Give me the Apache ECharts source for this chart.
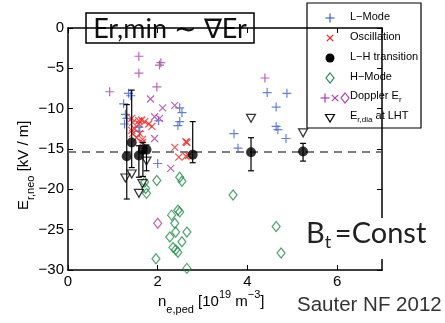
<!DOCTYPE html>
<html>
<head>
<meta charset="utf-8">
<script src="https://cdn.jsdelivr.net/npm/echarts@6/dist/echarts.min.js"></script>
<style>
  html, body { margin: 0; padding: 0; background: #fff; }
  #chart { width: 445px; height: 323px; }
</style>
</head>
<body>
<div id="chart"></div>
<script>
// Pedestal density n_e,ped [1e19 m^-3] vs neoclassical E_r [kV/m]

const xTicks = [0, 2, 4, 6];
const yTicks = [0, -5, -10, -15, -20, -25, -30];

// L-mode (CXRS)
const lMode = [
  [1.35, -8.1], [1.40, -8.4], [1.24, -9.4], [1.28, -10.7], [1.31, -11.2],
  [1.26, -11.9], [1.58, -12.3], [1.60, -12.8], [2.02, -11.5], [2.49, -9.9],
  [2.54, -10.5], [2.49, -11.6], [2.45, -12.1], [2.00, -16.8], [4.44, -8.0],
  [4.88, -8.1], [4.64, -9.8], [4.64, -12.2], [4.68, -12.6], [4.86, -13.7],
  [3.70, -13.1], [3.79, -14.9]
];

// Oscillation phase
const oscillation = [
  [1.42, -11.2], [1.58, -11.5], [1.64, -11.4], [1.71, -11.6], [1.80, -11.9],
  [1.87, -12.2], [1.44, -11.7], [1.58, -11.9], [1.42, -12.7], [1.49, -12.5],
  [1.44, -13.1], [1.53, -13.6], [1.60, -13.1], [1.66, -13.8], [1.66, -14.2],
  [2.38, -14.8], [2.63, -14.1], [2.65, -14.2], [2.47, -16.0], [2.63, -15.9],
  [2.69, -15.8]
];

// L-H transition points with error range
const lhTransition = [
  [1.31, -15.9], [1.42, -14.2], [1.58, -15.8], [1.67, -15.1],
  [1.75, -15.1], [2.78, -15.7], [4.08, -15.4], [5.24, -15.3]
];
const lhErrLow  = [-21.2, -17.3, -18.5, -18.4, -17.7, -16.7, -17.7, -16.5];
const lhErrHigh = [-9.5, -7.7, -14.6, -14.2, -14.5, -11.6, -13.6, -14.3];

// H-mode
const hMode = [
  [1.71, -19.1], [1.73, -19.9], [1.75, -20.5], [1.98, -18.9], [2.49, -18.5],
  [2.54, -19.0], [2.31, -23.2], [2.45, -22.6], [2.49, -22.8], [2.38, -24.2],
  [2.65, -25.3], [2.40, -25.3], [2.27, -25.9], [2.54, -26.5], [2.34, -27.2],
  [2.40, -27.5], [2.45, -27.8], [1.96, -28.6], [2.65, -29.8], [3.68, -20.7],
  [4.64, -24.6], [4.75, -27.9]
];

// Doppler reflectometry E_r (L-mode, oscillation, H-mode)
const dopplerL = [
  [1.58, -3.5], [2.04, -4.6], [2.07, -4.3], [1.58, -5.6],
  [0.93, -7.9], [1.98, -7.3], [4.39, -6.2]
];
const dopplerOsc = [
  [1.84, -8.8], [2.11, -9.9], [2.38, -9.6], [1.93, -11.0],
  [2.04, -11.2], [1.93, -13.7], [2.29, -17.4]
];
const dopplerH = [[2.00, -24.2]];

// Diamagnetic E_r at the L-H transition
const erDia = [
  [1.28, -18.6], [1.42, -18.1], [1.75, -16.5], [1.66, -19.3],
  [1.58, -20.5], [4.08, -11.2], [5.24, -13.0]
];

// Threshold level
const erMinLevel = -15.4;

const BLUE = '#3e62c8', RED = '#f2201e', GREEN = '#1f8c48', MAG = '#a93fa8';
const FONT = '"Liberation Sans", Arial, Helvetica, sans-serif';
const PLUS = 'path://M5,0L5,10M0,5L10,5';
const CROSS = 'path://M0,0L10,10M10,0L0,10';

const minus = v => (v < 0 ? '\u2212' + (-v) : String(v));

function openMarker(symbol, size, color, extra) {
  return Object.assign({
    type: 'scatter',
    symbol: symbol,
    symbolSize: size,
    itemStyle: { color: 'rgba(0,0,0,0)', borderColor: color, borderWidth: 1.2 },
    emphasis: { disabled: true },
    silent: true
  }, extra || {});
}

const errData = lhTransition.map((p, i) => [p[0], lhErrLow[i], lhErrHigh[i]]);

const chart = echarts.init(document.getElementById('chart'), null, { renderer: 'canvas' });

// Legend entries (built as graphics)
const LX = 330, TX = 350;
const legendRows = [18, 38, 58, 78, 98, 118];
function plusG(cx, cy, c, s) {
  return [
    { type: 'line', shape: { x1: cx - s, y1: cy, x2: cx + s, y2: cy }, style: { stroke: c, lineWidth: 1.2 } },
    { type: 'line', shape: { x1: cx, y1: cy - s, x2: cx, y2: cy + s }, style: { stroke: c, lineWidth: 1.2 } }
  ];
}
function crossG(cx, cy, c, s) {
  return [
    { type: 'line', shape: { x1: cx - s, y1: cy - s, x2: cx + s, y2: cy + s }, style: { stroke: c, lineWidth: 1.2 } },
    { type: 'line', shape: { x1: cx + s, y1: cy - s, x2: cx - s, y2: cy + s }, style: { stroke: c, lineWidth: 1.2 } }
  ];
}
function diamondG(cx, cy, c) {
  return { type: 'polygon', shape: { points: [[cx, cy - 5], [cx + 4, cy], [cx, cy + 5], [cx - 4, cy]] },
    style: { fill: 'none', stroke: c, lineWidth: 1.2 } };
}
const legText = (y, rich, txt) => ({
  type: 'text', left: TX, top: y - 8,
  style: { text: txt, font: '11px ' + FONT, fill: '#000', rich: rich }
});
const subRich = {
  m: { fontSize: 11, fontFamily: FONT, verticalAlign: 'middle', lineHeight: 16 },
  s: { fontSize: 8, fontFamily: FONT, verticalAlign: 'bottom', lineHeight: 16 }
};

const legendChildren = [
  { type: 'rect', shape: { x: 307, y: 3, width: 114, height: 125 },
    style: { fill: '#fff', stroke: '#000', lineWidth: 1.2 } },
  ...plusG(LX, legendRows[0], BLUE, 4.5),
  ...crossG(LX, legendRows[1], RED, 3.2),
  { type: 'circle', shape: { cx: LX, cy: legendRows[2], r: 4.5 }, style: { fill: '#000' } },
  diamondG(LX, legendRows[3], GREEN),
  ...plusG(LX - 5, legendRows[4], MAG, 4.5),
  ...crossG(LX + 5, legendRows[4], MAG, 3.2),
  diamondG(LX + 15, legendRows[4], MAG),
  { type: 'polygon', shape: { points: [[LX - 4.5, legendRows[5] - 3.5], [LX + 4.5, legendRows[5] - 3.5], [LX, legendRows[5] + 4]] },
    style: { fill: 'none', stroke: '#000', lineWidth: 1.2 } },
  { type: 'text', left: TX, top: legendRows[0] - 7, style: { text: 'L\u2212Mode', font: '11px ' + FONT, fill: '#000' } },
  { type: 'text', left: TX, top: legendRows[1] - 7, style: { text: 'Oscillation', font: '11px ' + FONT, fill: '#000' } },
  { type: 'text', left: TX, top: legendRows[2] - 7, style: { text: 'L\u2212H transition', font: '11px ' + FONT, fill: '#000' } },
  { type: 'text', left: TX, top: legendRows[3] - 7, style: { text: 'H\u2212Mode', font: '11px ' + FONT, fill: '#000' } },
  legText(legendRows[4], subRich, '{m|Doppler E}{s|r}'),
  legText(legendRows[5], subRich, '{m|E}{s|r,dia}{m| at LHT}')
];

const option = {
  animation: false,
  backgroundColor: '#fff',
  grid: { left: 68, right: 63, top: 28, bottom: 53, show: false },
  xAxis: [
    {
      type: 'value', min: 0, max: 7, interval: 2, position: 'bottom',
      axisLine: { show: true, onZero: false, lineStyle: { color: '#000', width: 1.5 } },
      axisTick: { show: true, inside: true, length: 5, lineStyle: { color: '#000', width: 1 } },
      axisLabel: { color: '#000', fontSize: 15, fontFamily: FONT, margin: 4, showMaxLabel: false,
        formatter: v => (xTicks.indexOf(v) >= 0 ? String(v) : '') },
      splitLine: { show: false }
    },
    {
      type: 'value', min: 0, max: 7, interval: 2, position: 'top',
      axisLine: { show: true, onZero: false, lineStyle: { color: '#000', width: 1.5 } },
      axisTick: { show: true, inside: true, length: 5, lineStyle: { color: '#000', width: 1 } },
      axisLabel: { show: false }, splitLine: { show: false }
    }
  ],
  yAxis: [
    {
      type: 'value', min: -30, max: 0, interval: 5, position: 'left',
      axisLine: { show: true, onZero: false, lineStyle: { color: '#000', width: 1.5 } },
      axisTick: { show: true, inside: true, length: 5, lineStyle: { color: '#000', width: 1 } },
      axisLabel: { color: '#000', fontSize: 15, fontFamily: FONT, margin: 4,
        formatter: v => (yTicks.indexOf(v) >= 0 ? minus(v) : '') },
      splitLine: { show: false }
    },
    {
      type: 'value', min: -30, max: 0, interval: 5, position: 'right',
      axisLine: { show: true, onZero: false, lineStyle: { color: '#000', width: 1.5 } },
      axisTick: { show: true, inside: true, length: 5, lineStyle: { color: '#000', width: 1 } },
      axisLabel: { show: false }, splitLine: { show: false }
    }
  ],
  series: [
    openMarker('diamond', [8, 10], GREEN, { name: 'H-Mode', data: hMode, z: 2 }),
    openMarker(PLUS, 9, BLUE, { name: 'L-Mode', data: lMode, z: 3 }),
    openMarker(CROSS, 7, RED, { name: 'Oscillation', data: oscillation, z: 3 }),
    openMarker(PLUS, 9, MAG, { name: 'Doppler L', data: dopplerL, z: 3 }),
    openMarker(CROSS, 7, MAG, { name: 'Doppler Osc', data: dopplerOsc, z: 3 }),
    openMarker('diamond', [8, 10], MAG, { name: 'Doppler H', data: dopplerH, z: 3 }),
    openMarker('triangle', [9, 8], '#000', { name: 'Er,dia', data: erDia, symbolRotate: 180, z: 4 }),
    {
      type: 'custom', name: 'error', data: errData, z: 5, silent: true,
      encode: { x: 0, y: [1, 2] },
      renderItem: function (params, api) {
        const x = api.value(0);
        const lo = api.coord([x, api.value(1)]);
        const hi = api.coord([x, api.value(2)]);
        const cap = 3;
        const st = { stroke: '#000', lineWidth: 1.2 };
        return {
          type: 'group',
          children: [
            { type: 'line', shape: { x1: hi[0], y1: hi[1], x2: lo[0], y2: lo[1] }, style: st },
            { type: 'line', shape: { x1: hi[0] - cap, y1: hi[1], x2: hi[0] + cap, y2: hi[1] }, style: st },
            { type: 'line', shape: { x1: lo[0] - cap, y1: lo[1], x2: lo[0] + cap, y2: lo[1] }, style: st }
          ]
        };
      }
    },
    {
      type: 'scatter', name: 'L-H transition', data: lhTransition, z: 6,
      symbol: 'circle', symbolSize: 10, silent: true,
      itemStyle: { color: '#000' },
      markLine: {
        silent: true, symbol: 'none', z: 1,
        label: { show: false },
        lineStyle: { type: [8, 6], color: '#555', width: 1.5 },
        data: [{ yAxis: erMinLevel }]
      }
    }
  ],
  graphic: [
    // title box
    {
      type: 'group', z: 100,
      children: [
        { type: 'rect', shape: { x: 86, y: 13, width: 168, height: 30 },
          style: { fill: '#fff', stroke: '#000', lineWidth: 1.5 } },
        { type: 'text', x: 170, y: 29,
          style: { text: 'Er,min \u223C \u2207Er', font: '27px Lato, "Open Sans", sans-serif',
            fill: '#111', align: 'center', verticalAlign: 'middle' } }
      ]
    },
    // legend
    { type: 'group', z: 100, children: legendChildren },
    // B_t = Const, on a white patch that interrupts the frame
    {
      type: 'rect', z: 99, shape: { x: 300, y: 218, width: 135, height: 41 },
      style: { fill: '#fff' }
    },
    {
      type: 'text', z: 100, left: 306, top: 219,
      style: {
        text: '{m|B}{s|t}{m|\u2009=Const}',
        rich: {
          m: { fontSize: 29, fontFamily: 'Lato, ' + FONT, fill: '#222', verticalAlign: 'middle', lineHeight: 36 },
          s: { fontSize: 18, fontFamily: 'Lato, ' + FONT, fill: '#222', verticalAlign: 'bottom', lineHeight: 32 }
        }
      }
    },
    // citation
    {
      type: 'text', z: 100, left: 297, top: 295,
      style: { text: 'Sauter NF 2012', font: '20.5px ' + FONT, fill: '#333' }
    },
    // x-axis title
    {
      type: 'text', z: 100, left: 158, top: 289,
      style: {
        text: '{m|n}{s|e,ped}{m| [10}{p|19}{m| m}{p|\u22123}{m|]}',
        rich: {
          m: { fontSize: 15, fontFamily: FONT, fill: '#000', verticalAlign: 'middle', lineHeight: 26 },
          s: { fontSize: 11, fontFamily: FONT, fill: '#000', verticalAlign: 'bottom', lineHeight: 26 },
          p: { fontSize: 11, fontFamily: FONT, fill: '#000', verticalAlign: 'top', lineHeight: 22 }
        }
      }
    },
    // y-axis title
    {
      type: 'text', z: 100, x: 12, y: 210, rotation: Math.PI / 2,
      style: {
        text: '{m|E}{s|r,neo}{m| [kV / m]}',
        rich: {
          m: { fontSize: 15, fontFamily: FONT, fill: '#000', verticalAlign: 'middle', lineHeight: 24 },
          s: { fontSize: 11, fontFamily: FONT, fill: '#000', verticalAlign: 'bottom', lineHeight: 24 }
        }
      }
    }
  ]
};

chart.setOption(option);
</script>
</body>
</html>
